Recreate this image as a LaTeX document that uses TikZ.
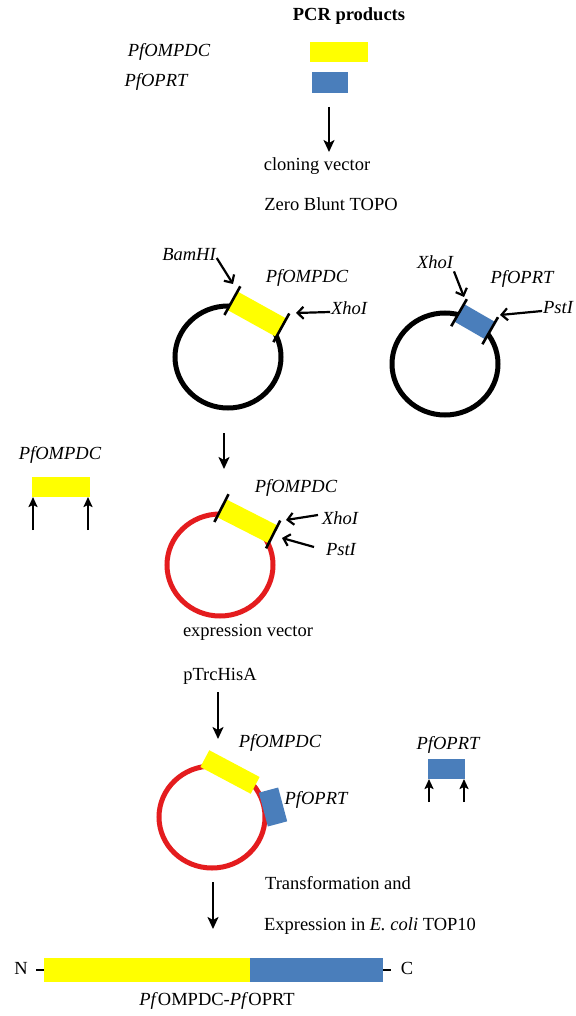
\documentclass[tikz,border=0pt]{standalone}
\usepackage{fontspec}
\setmainfont{Liberation Serif}
\usetikzlibrary{arrows.meta,calc,shapes.geometric}
\definecolor{gyel}{RGB}{255,255,0}
\definecolor{gblu}{RGB}{74,126,187}
\definecolor{gred}{RGB}{228,28,30}
\tikzset{
  lbl/.style={inner sep=1pt, outer sep=0pt, text height=0.68em, text depth=0.2em, font=\fontsize{18.5}{22}\selectfont},
  ilbl/.style={lbl, font=\fontsize{18.5}{22}\selectfont\itshape},
  ybox/.style={fill=gyel, draw=none, inner sep=0pt, outer sep=0pt},
  bbox/.style={fill=gblu, draw=none, inner sep=0pt, outer sep=0pt},
  plasmid/.style={ellipse, draw=black, line width=5pt, minimum width=106pt, minimum height=102pt, inner sep=0pt, outer sep=0pt},
  rplasmid/.style={plasmid, draw=gred},
  marrow/.style={line width=2.2pt, -{Stealth[length=12pt,width=11pt,inset=3pt]}},
  uarrow/.style={line width=2.2pt, -{Stealth[length=10pt,width=9pt,inset=2pt]}},
  larrow/.style={line width=2.2pt, -{Straight Barb[length=6pt,width=12pt]}},
  tickline/.style={line width=2.6pt},
}
\newcommand{\ticks}[1]{%
  \draw[tickline] ($(#1.north west)!-0.28!(#1.south west)$) -- ($(#1.north west)!1.28!(#1.south west)$);
  \draw[tickline] ($(#1.north east)!-0.28!(#1.south east)$) -- ($(#1.north east)!1.28!(#1.south east)$);}
\begin{document}
\begin{tikzpicture}[x=1pt,y=-1pt]
\useasboundingbox[fill=white] (0,0) rectangle (575,1016);

% ---- PCR products ----
\node[lbl, font=\fontsize{18.5}{22}\selectfont\bfseries] (pcr) at (349,18) {PCR products};
\node[ilbl] (lblA) at (169,54) {PfOMPDC};
\node[ilbl] (lblB) at (156,84) {PfOPRT};
\node[ybox, minimum width=58pt, minimum height=20pt] (rA) at (339,52) {};
\node[bbox, minimum width=36pt, minimum height=21pt] (rB) at (330,82.5) {};
\coordinate (a1s) at (329,107);
\coordinate (a1e) at (329,152);
\draw[marrow] (a1s) -- (a1e);
\node[lbl] (clv) at (317,168) {cloning vector};
\node[lbl] (zbt) at (331,208) {Zero Blunt TOPO};

% ---- cloning plasmid 1 ----
\node[plasmid] (c1) at (228,357) {};
\node[ybox, minimum width=56pt, minimum height=21pt, rotate=-29] (ins1) at (c1.56) {};
\ticks{ins1}
\node[ilbl] (bam) at (189,258) {BamHI};
\coordinate (bamtip) at (233,284);
\draw[larrow] (bam.east) -- (bamtip);
\node[ilbl] (lbl1) at (307,280) {PfOMPDC};
\node[ilbl] (xho1) at (349,312) {XhoI};
\coordinate (xho1tip) at (296,313);
\draw[larrow] (xho1.west) -- (xho1tip);

% ---- cloning plasmid 2 ----
\node[plasmid] (c2) at (445,364) {};
\node[bbox, minimum width=36pt, minimum height=20pt, rotate=-30] (ins2) at (c2.55) {};
\ticks{ins2}
\node[ilbl] (xho2) at (435,266) {XhoI};
\coordinate (xho2tip) at (464,297);
\draw[larrow] (xho2.south east) -- (xho2tip);
\node[ilbl] (lbl2) at (522,281) {PfOPRT};
\node[ilbl] (pst2) at (558,311) {PstI};
\coordinate (pst2tip) at (500,315);
\draw[larrow] (pst2.west) -- (pst2tip);

% ---- arrow to expression vector ----
\coordinate (a2s) at (224,433);
\coordinate (a2e) at (224,469);
\draw[marrow] (a2s) -- (a2e);

% ---- left insert PfOMPDC ----
\node[ilbl] (lblL) at (60,457) {PfOMPDC};
\node[ybox, minimum width=58pt, minimum height=20pt] (rL) at (61,487) {};
\coordinate (uL1) at (33,530);
\coordinate (uL2) at (88,530);
\draw[uarrow] (uL1) -- (uL1 |- rL.south);
\draw[uarrow] (uL2) -- (uL2 |- rL.south);

% ---- expression plasmid ----
\node[rplasmid] (c3) at (220,565) {};
\node[ybox, minimum width=58pt, minimum height=20pt, rotate=-27] (ins3) at (c3.58) {};
\ticks{ins3}
\node[ilbl] (lbl3) at (296,490) {PfOMPDC};
\node[ilbl] (xho3) at (340,522) {XhoI};
\coordinate (xho3tail) at (318,515);
\coordinate (xho3tip) at (286,520);
\draw[larrow] (xho3tail) -- (xho3tip);
\node[ilbl] (pst3) at (341,553) {PstI};
\coordinate (pst3tail) at (314,547);
\coordinate (pst3tip) at (282,538);
\draw[larrow] (pst3tail) -- (pst3tip);
\node[lbl] (ev) at (248,634) {expression vector};
\node[lbl] (pt) at (220,678) {pTrcHisA};

\coordinate (a3s) at (218,692);
\coordinate (a3e) at (218,739);
\draw[marrow] (a3s) -- (a3e);

% ---- final construct plasmid ----
\node[rplasmid] (c4) at (212,817) {};
\node[bbox, minimum width=35pt, minimum height=20pt, rotate=-75] (ins4b) at (273,807) {};
\node[ybox, minimum width=57pt, minimum height=19pt, rotate=-28] (ins4a) at (230,772) {};
\node[ilbl] (lbl4a) at (280,745) {PfOMPDC};
\node[ilbl] (lbl4b) at (316,802) {PfOPRT};

% ---- right insert PfOPRT ----
\node[ilbl] (lblR) at (448,747) {PfOPRT};
\node[bbox, minimum width=37pt, minimum height=20pt] (rR) at (446.5,769) {};
\coordinate (uR1) at (429,802);
\coordinate (uR2) at (464,802);
\draw[uarrow] (uR1) -- (uR1 |- rR.south);
\draw[uarrow] (uR2) -- (uR2 |- rR.south);

% ---- expression ----
\coordinate (a4s) at (213,882);
\coordinate (a4e) at (213,929);
\draw[marrow] (a4s) -- (a4e);
\node[lbl] (tr) at (338,887) {Transformation and};
\node[lbl] (ex) at (370,928) {Expression in \textit{E. coli} TOP10};

% ---- fusion protein ----
\node[ybox, minimum width=206pt, minimum height=24pt] (barY) at (147,970) {};
\node[bbox, minimum width=133pt, minimum height=24pt] (barB) at (316.5,970) {};
\node[lbl] (nterm) at (21,972) {N};
\node[lbl] (cterm) at (407,972) {C};
\draw[line width=2pt] ($(barY.west)+(-8,0)$) -- (barY.west);
\draw[line width=2pt] (barB.east) -- ($(barB.east)+(8,0)$);
\node[lbl] (fus) at (217,1003) {\textit{Pf}OMPDC-\textit{Pf}OPRT};
\end{tikzpicture}
\end{document}
